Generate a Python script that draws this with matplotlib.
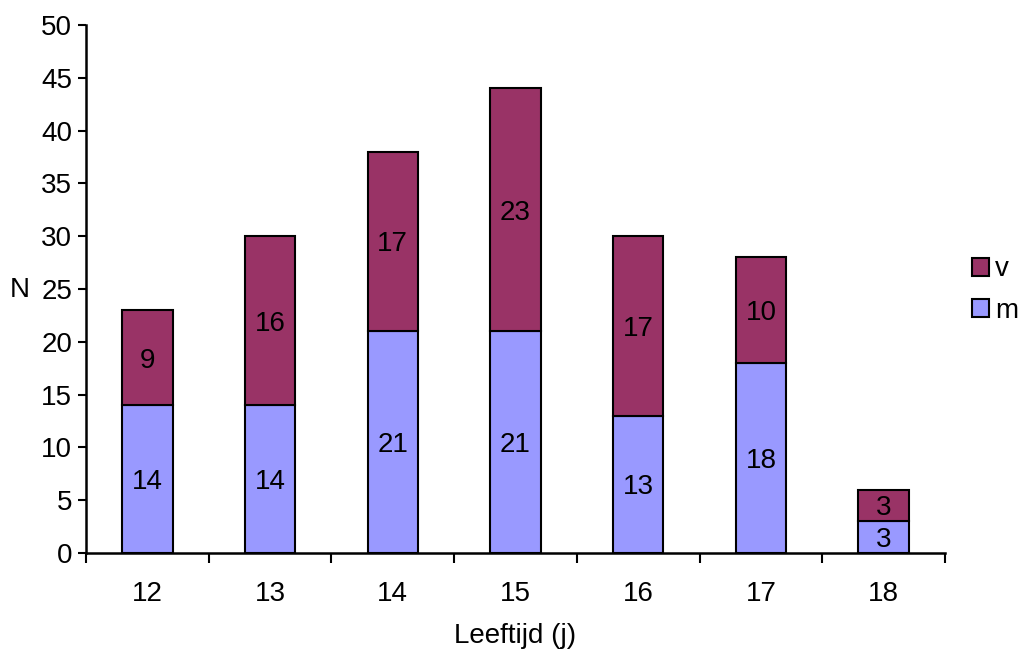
import matplotlib
matplotlib.use("Agg")
import matplotlib.pyplot as plt
import numpy as np

plt.rcParams['font.family'] = ['Liberation Sans', 'DejaVu Sans']

ages = ["12", "13", "14", "15", "16", "17", "18"]
m_counts = [14, 14, 21, 21, 13, 18, 3]
v_counts = [9, 16, 17, 23, 17, 10, 3]

color_m = "#9999FF"
color_v = "#993366"
fs = 20

fig = plt.figure(figsize=(10.18, 6.5), dpi=100)
ax = fig.add_axes([86 / 1018, (650 - 553) / 650, (945 - 86) / 1018, (553 - 25) / 650])

x = np.arange(len(ages))
w = 0.41
bm = ax.bar(x, m_counts, width=w, color=color_m, edgecolor="black", linewidth=1.5, label="m")
bv = ax.bar(x, v_counts, width=w, bottom=m_counts, color=color_v, edgecolor="black", linewidth=1.5, label="v")

for xi, mv, vv in zip(x, m_counts, v_counts):
    ax.text(xi, mv / 2, str(mv), ha="center", va="center_baseline", fontsize=fs)
    ax.text(xi, mv + vv / 2, str(vv), ha="center", va="center_baseline", fontsize=fs)

ax.set_xlim(-0.5, len(ages) - 0.5)
ax.set_ylim(0, 50)
ax.set_yticks(np.arange(0, 51, 5))
ax.tick_params(axis="y", labelsize=fs, direction="out", length=6, width=1.5, pad=4)

# category labels centred, tick marks on category boundaries
ax.set_xticks(x)
ax.set_xticklabels(ages)
ax.tick_params(axis="x", which="major", length=0, labelsize=fs, pad=20)
ax.set_xticks(np.arange(-0.5, len(ages)), minor=True)
ax.tick_params(axis="x", which="minor", direction="out", length=7, width=1.5)

for side in ["top", "right"]:
    ax.spines[side].set_visible(False)
for side in ["left", "bottom"]:
    ax.spines[side].set_linewidth(1.8)

ax.set_xlabel("Leeftijd (j)", fontsize=fs, labelpad=12)
fig.text(20 / 1018, 1 - 290 / 650, "N", fontsize=fs, ha="center", va="center")

handles = [bv, bm]
leg = fig.legend(handles, ["v", "m"], loc="center left", bbox_to_anchor=(972 / 1018, 1 - 290 / 650),
                 frameon=False, fontsize=fs, handlelength=0.62, handleheight=0.62,
                 handletextpad=0.22, labelspacing=0.55, borderaxespad=0, borderpad=0)

fig.savefig("out.png", dpi=100)
